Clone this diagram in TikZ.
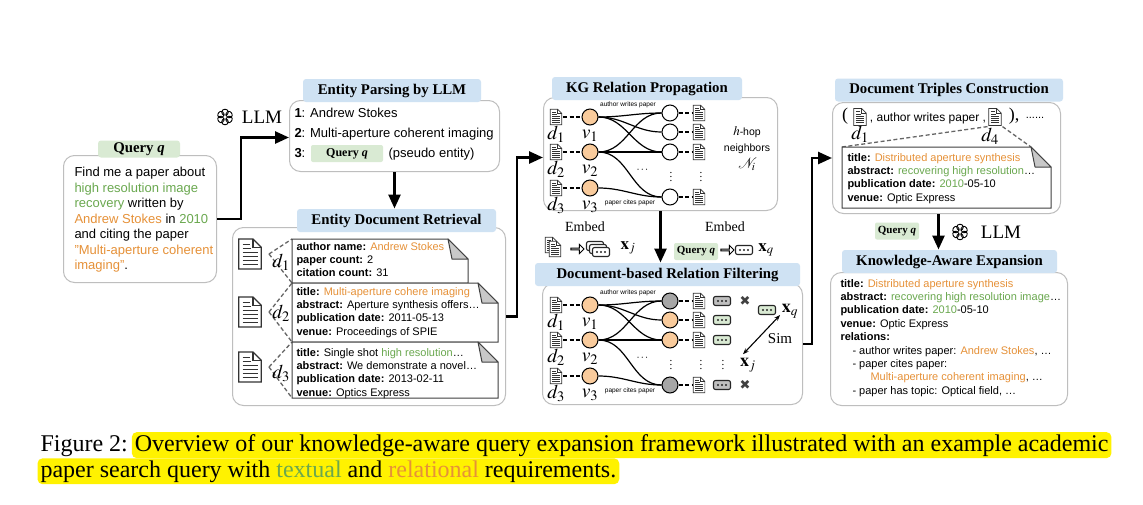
\documentclass[tikz,border=0pt]{standalone}
\usepackage{amsmath,amssymb}
\usepackage{mathptmx}
\usepackage{fontspec}
\setmainfont{Liberation Serif}
\setsansfont{Liberation Sans}
\newfontfamily\symfont{DejaVu Sans}
\usetikzlibrary{positioning, arrows.meta, shapes.arrows, calc}

\definecolor{tagblue}{RGB}{207,226,243}
\definecolor{taggreen}{RGB}{217,234,211}
\definecolor{kgorange}{RGB}{230,145,56}
\definecolor{kggreen}{RGB}{106,168,79}
\definecolor{nodeorange}{RGB}{249,203,156}
\definecolor{nodegray}{RGB}{166,166,166}
\definecolor{panelgray}{RGB}{190,190,190}
\definecolor{foldgray}{RGB}{200,200,200}

\newcommand{\bodyfont}{\sffamily\fontsize{13}{15.5}\selectfont}
\newcommand{\cardfont}{\sffamily\fontsize{11}{13.3}\selectfont}
\newcommand{\tagfont}{\rmfamily\bfseries\fontsize{14.8}{16}\selectfont}
\newcommand{\smalltagfont}{\rmfamily\bfseries\fontsize{11}{12}\selectfont}
\newcommand{\tinyfont}{\sffamily\fontsize{6.5}{7}\selectfont}
\newcommand{\capfont}{\rmfamily\fontsize{24}{26}\selectfont}
\newcommand{\orng}[1]{\textcolor{kgorange}{#1}}
\newcommand{\grn}[1]{\textcolor{kggreen}{#1}}

\tikzset{
  every picture/.style={
    line width=1pt
  },
  panel/.style={draw=panelgray, rounded corners=11pt, fill=white, inner sep=0pt, anchor=north west},
  bluetag/.style={fill=tagblue, rounded corners=3pt, font=\tagfont, minimum height=23pt, inner sep=0pt},
  greentag/.style={fill=taggreen, rounded corners=3pt, font=\tagfont, minimum height=17pt, inner sep=0pt},
  qtag/.style={fill=taggreen, rounded corners=2pt, font=\smalltagfont, minimum width=44pt, minimum height=17pt, inner sep=0pt},
  bodytext/.style={font=\bodyfont, align=left, anchor=north west, inner sep=0pt},
  cardtext/.style={font=\cardfont, align=left, anchor=north west, inner sep=0pt},
  cardbox/.style={inner sep=0pt, anchor=north west},
  mathlbl/.style={font=\fontsize{19.5}{19.5}\selectfont, inner sep=0pt},
  dotlbl/.style={inner sep=0pt, font=\fontsize{11}{11}\selectfont},
  flow/.style={line width=2.6pt, -{Triangle[length=14pt,width=12pt]}},
  entnode/.style={circle, draw, minimum size=16pt, inner sep=0pt, fill=#1},
  entnode/.default=white,
  dashlink/.style={dash pattern=on 4pt off 2.5pt, line width=1.3pt},
  kgedge/.style={line width=1.2pt},
  hollowarrow/.style={single arrow, draw, line width=0.9pt, minimum height=13pt, minimum width=9pt,
    single arrow head extend=2pt, inner sep=0pt, fill=white},
  embbox/.style={draw=black!85, line width=1.1pt, rounded corners=2pt, minimum width=17pt, minimum height=9pt,
    inner sep=0pt, fill=#1, path picture={
      \foreach \dx in {-4,0,4} \fill[black!85] ([xshift=\dx pt]path picture bounding box.center) circle (1.1pt);}},
  embbox/.default=taggreen,
  docicon/.style={minimum width=#1, minimum height=1.3*#1, inner sep=0pt, path picture={
    \begin{scope}[shift={(path picture bounding box.center)}, x=#1, y=#1, line width=0.055*#1, draw=black!80]
      \draw[fill=white] (-0.45,0.6) -- (0.12,0.6) -- (0.45,0.27) -- (0.45,-0.6) -- (-0.45,-0.6) -- cycle;
      \draw (0.12,0.6) -- (0.12,0.27) -- (0.45,0.27);
      \foreach \yy/\xb in {0.38/-0.02, 0.22/0.05, 0.06/0.3, -0.1/0.3, -0.26/0.3, -0.42/0.3}
        \draw (-0.3,\yy) -- (\xb,\yy);
    \end{scope}}},
  gptlogo/.pic={
    \foreach \a in {0,60,...,300}
      \draw[rotate=\a, line width=0.9pt, rounded corners=2.5pt] (-3.2,2) rectangle (3.2,7.6);
  },
  hl/.style={fill=yellow, rounded corners=5pt, inner xsep=3pt, inner ysep=2pt, font=\capfont}
}

% card with folded corner
\newcommand{\foldcard}[2]{%
  \draw[black!75, fill=white] (#1.north west) -- ([xshift=-#2]#1.north east) -- ([yshift=-#2]#1.north east)
    -- (#1.south east) -- (#1.south west) -- cycle;
  \draw[black!75, fill=foldgray, line join=round] ([xshift=-#2]#1.north east)
    -- ([xshift=-0.8*#2, yshift=-#2]#1.north east) -- ([yshift=-#2]#1.north east) -- cycle;
}

% relation graph: prefix, y offset, fills of the four neighbours
\newcommand{\kgnet}[6]{%
  \foreach \i/\yy in {1/117, 2/152, 3/188} {
    \node[docicon=13pt] (#1d\i) at (556,\yy+#2) {};
    \node[entnode=nodeorange] (#1v\i) at (590,\yy+#2) {};
    \draw[dashlink] (#1d\i) -- (#1v\i);
    \node[mathlbl] at (556,\yy+17+#2) {$d_\i$};
    \node[mathlbl] at (590,\yy+19+#2) {$v_\i$};
  }
  \foreach \i/\yy/\f in {1/113/#3, 2/132/#4, 3/152/#5, 4/197/#6} {
    \node[entnode=\f] (#1n\i) at (670,\yy+#2) {};
    \node[docicon=13pt] (#1r\i) at (699,\yy+#2) {};
    \draw[dashlink] (#1n\i) -- (#1r\i);
  }
  \foreach \s/\t in {1/1, 1/2, 1/3, 2/1, 2/3, 2/4, 3/4}
    \draw[kgedge] (#1v\s) to[out=0, in=180] (#1n\t);
  \node[font=\tinyfont] (#1aw) at (628,105+#2) {author writes paper};
  \node[font=\tinyfont] (#1pc) at (630,203+#2) {paper cites paper};
  \node[dotlbl] (#1h) at (643,170+#2) {$\cdots$};
  \node[dotlbl] (#1va) at (671,174+#2) {$\vdots$};
  \node[dotlbl] (#1vb) at (701,174+#2) {$\vdots$};
}

\begin{document}
\begin{tikzpicture}[x=1pt, y=-1pt]
  \useasboundingbox (0,0) rectangle (1143,504);
  \fill[white] (0,0) rectangle (1143,504);

  % query
  \node[panel, minimum width=153pt, minimum height=127pt] (qbox) at (63,155) {};
  \node[greentag, minimum width=82pt] (qtag) at (139,149) {Query \textit{q}};
  \node[bodytext] (qtext) at (74,165.5) {\strut Find me a paper about\\ \grn{high resolution image}\\
    \grn{recovery} written by\\ \orng{Andrew Stokes} in \grn{2010}\\ and citing the paper\\
    \orng{"Multi-aperture coherent}\\ \orng{imaging"}.};

  % entity parsing
  \node[panel, minimum width=210pt, minimum height=71pt] (pbox) at (289,100) {};
  \node[bluetag, minimum width=178pt] (ptag) at (392,90.5) {Entity Parsing by LLM};
  \node[bodytext, font=\sffamily\fontsize{13}{20}\selectfont] (ptext) at (294,103.3)
    {\strut\textbf{1}: Andrew Stokes\\ \textbf{2}: Multi-aperture coherent imaging};
  \node[anchor=base west, font=\bodyfont, inner sep=0pt] (p3) at (294,157.3) {\textbf{3}:};
  \node[qtag, minimum width=72pt, font=\rmfamily\bfseries\fontsize{12}{12}\selectfont] (pq) at (347,153.5) {Query \textit{q}};
  \node[anchor=base west, font=\bodyfont, inner sep=0pt] (p3b) at (388,157.3) {(pseudo entity)};
  \pic (llmA) at (225,117) {gptlogo};
  \node[font=\rmfamily\fontsize{19}{19}\selectfont] (llmAt) at (262,117) {LLM};

  % entity document retrieval
  \node[panel, minimum width=273pt, minimum height=178pt] (rbox) at (232,227) {};
  \node[bluetag, minimum width=199pt] (rtag) at (396.5,220.5) {Entity Document Retrieval};
  \foreach \i/\yy/\top/\w/\h/\ly in {1/254/239/175/43/262, 2/312/283/205/58/313, 3/367/342/205/55/373} {
    \node[docicon=25pt] (ri\i) at (250,\yy) {};
    \node[cardbox, minimum width=\w pt, minimum height=\h pt] (c\i) at (292,\top) {};
    \draw[dashlink, black!60] ([xshift=6pt]ri\i.east) -- (c\i.north west);
    \draw[dashlink, black!60] ([xshift=6pt]ri\i.east) -- (c\i.south west);
    \foldcard{c\i}{20pt}
    \node[mathlbl] (rd\i) at (281,\ly) {$d_\i$};
  }
  \node[cardtext] (c1t) at (296,240.3) {\strut\textbf{author name:} \orng{Andrew Stokes}\\
    \textbf{paper count:} 2\\ \textbf{citation count:} 31};
  \node[cardtext] (c2t) at (296,285.3) {\strut\textbf{title:} \orng{Multi-aperture cohere imaging}\\
    \textbf{abstract:} Aperture synthesis offers…\\ \textbf{publication date:} 2011-05-13\\
    \textbf{venue:} Proceedings of SPIE};
  \node[cardtext] (c3t) at (296,346.3) {\strut\textbf{title:} Single shot \grn{high resolution}…\\
    \textbf{abstract:} We demonstrate a novel…\\ \textbf{publication date:} 2013-02-11\\
    \textbf{venue:} Optics Express};

  % KG relation propagation
  \node[panel, minimum width=234pt, minimum height=113pt] (kgbox) at (543,97) {};
  \node[bluetag, minimum width=190pt] (kgtag) at (647,88.5) {KG Relation Propagation};
  \kgnet{a}{0}{white}{white}{white}{white}
  \node[align=center, font=\sffamily\fontsize{10.5}{16.5}\selectfont] (hop) at (747,148.5)
    {\fontsize{13}{13}\selectfont$h$\fontsize{10.5}{16.5}\selectfont-hop\\ neighbors\\ \fontsize{15}{15}\selectfont$\mathcal{N}_i$};

  % embed row
  \node[font=\rmfamily\fontsize{14}{14}\selectfont] (emb1) at (585,227) {Embed};
  \node[docicon=13pt] (st1) at (551,245) {};
  \node[docicon=13pt] (st2) at (555,249) {};
  \node[hollowarrow] (ha1) at (577,249) {};
  \node[embbox=white] (se1) at (595,246) {};
  \node[embbox=white] (se2) at (598,249) {};
  \node[embbox=white] (se3) at (601,252) {};
  \node[font=\fontsize{17}{17}\selectfont] (xj1) at (628,248) {$\mathbf{x}_j$};
  \node[font=\rmfamily\fontsize{14}{14}\selectfont] (emb2) at (725,227) {Embed};
  \node[qtag] (eq) at (696,251.5) {Query \textit{q}};
  \node[hollowarrow] (ha2) at (727,250) {};
  \node[embbox=white] (xqe) at (744,250) {};
  \node[font=\fontsize{17}{17}\selectfont] (xq1) at (766,250) {$\mathbf{x}_q$};

  % document-based relation filtering
  \node[panel, minimum width=260pt, minimum height=121pt] (fbox) at (542,283) {};
  \node[bluetag, minimum width=265pt] (ftag) at (667.5,274.5) {Document-based Relation Filtering};
  \kgnet{b}{188}{nodegray}{nodeorange}{nodeorange}{nodegray}
  \foreach \i/\yy/\f in {1/301/black!25, 2/320/taggreen, 3/340/taggreen, 4/385/black!25}
    \node[embbox=\f] (fe\i) at (722,\yy) {};
  \node[font=\symfont\fontsize{13}{13}\selectfont, text=black!75, inner sep=0pt] (fx1) at (745,301) {✖};
  \node[font=\symfont\fontsize{13}{13}\selectfont, text=black!75, inner sep=0pt] (fx4) at (745,385) {✖};
  \node[dotlbl] (bvc) at (723,362) {$\vdots$};
  \node[embbox] (xqf) at (767,310) {};
  \node[font=\fontsize{18}{18}\selectfont] (xq2) at (790,311) {$\mathbf{x}_q$};
  \node[font=\fontsize{18}{18}\selectfont] (xj2) at (748,365) {$\mathbf{x}_j$};
  \draw[{Stealth[length=6pt]}-{Stealth[length=6pt]}, line width=1.1pt]
    ([xshift=-5pt]xj2.north) -- ([xshift=4pt]xqf.south east);
  \node[font=\rmfamily\fontsize{15}{15}\selectfont] (sim) at (780,339) {Sim};

  % document triples construction
  \node[panel, minimum width=228pt, minimum height=111pt] (dtbox) at (832,102) {};
  \node[bluetag, minimum width=228pt] (dttag) at (949,90) {Document Triples Construction};
  \node[font=\rmfamily\fontsize{18}{18}\selectfont] (lp) at (845,116) {(};
  \node[docicon=14pt] (dt1) at (860,117) {};
  \node[font=\sffamily\fontsize{12}{12}\selectfont] (awp) at (928,118) {, author writes paper ,};
  \node[docicon=14pt] (dt4) at (995,117) {};
  \node[font=\rmfamily\fontsize{18}{18}\selectfont] (rp) at (1014,116) {),};
  \node[font=\sffamily\fontsize{11}{11}\selectfont] (etc) at (1035,118) {......};
  \node[mathlbl] (dl1) at (860,134) {$d_1$};
  \node[mathlbl] (dl4) at (990,136) {$d_4$};
  \node[cardbox, minimum width=208pt, minimum height=60pt] (dtc) at (842,147) {};
  \draw[dashlink, black!60] (dt4.south west) -- (dtc.north west);
  \draw[dashlink, black!60] (dt4.south east) -- ([xshift=-20pt]dtc.north east);
  \foldcard{dtc}{20pt}
  \node[cardtext] (dtct) at (847,151.3) {\strut\textbf{title:} \orng{Distributed aperture synthesis}\\
    \textbf{abstract:} \grn{recovering high resolution}…\\ \textbf{publication date:} \grn{2010}-05-10\\
    \textbf{venue:} Optic Express};

  % knowledge-aware expansion
  \node[panel, minimum width=237pt, minimum height=133pt] (kabox) at (830,272) {};
  \node[bluetag, minimum width=215pt] (katag) at (949.5,261.5) {Knowledge-Aware Expansion};
  \node[cardtext, font=\sffamily\fontsize{11}{13.4}\selectfont] (katext) at (840,277.2)
    {\strut\textbf{title:} \orng{Distributed aperture synthesis}\\
    \textbf{abstract:} \grn{recovering high resolution image}…\\
    \textbf{publication date:} \grn{2010}-05-10\\
    \textbf{venue:} Optic Express\\
    \textbf{relations:}\\
    \hspace*{12pt}- author writes paper: \orng{Andrew Stokes}, …\\
    \hspace*{12pt}- paper cites paper:\\
    \hspace*{30pt}\orng{Multi-aperture coherent imaging}, …\\
    \hspace*{12pt}- paper has topic: Optical field, …};
  \node[qtag] (kq) at (897,231) {Query \textit{q}};
  \pic (llmB) at (960,232) {gptlogo};
  \node[font=\rmfamily\fontsize{19}{19}\selectfont] (llmBt) at (1001,232) {LLM};

  % main flow
  \draw[flow] (qbox.east) -- ++(24,0) |- ([yshift=-1.5pt]pbox.west);
  \draw[flow] (pbox.south) -- (pbox.south |- rtag.north);
  \draw[flow] (rbox.east) -- ++(11,0) |- ([yshift=-3.5pt]kgbox.west);
  \draw[flow] (kgbox.south) -- (kgbox.south |- ftag.north);
  \draw[flow] (fbox.east) -- ++(9,0) |- (dtbox.west);
  \draw[flow] ([xshift=-8pt]dtbox.south) -- ([xshift=-8pt]dtbox.south |- katag.north);

  % caption
  \node[anchor=base west, inner sep=0pt, font=\capfont] (figlbl) at (40,451) {Figure 2:};
  \node[hl, anchor=base west] (cap1) at ([xshift=3pt]figlbl.base east)
    {Overview of our knowledge-aware query expansion framework illustrated with an example academic};
  \node[hl, anchor=base west] (cap2) at (37,477)
    {paper search query with \textcolor{kggreen}{textual} and \textcolor{kgorange}{relational} requirements.};
\end{tikzpicture}
\end{document}
